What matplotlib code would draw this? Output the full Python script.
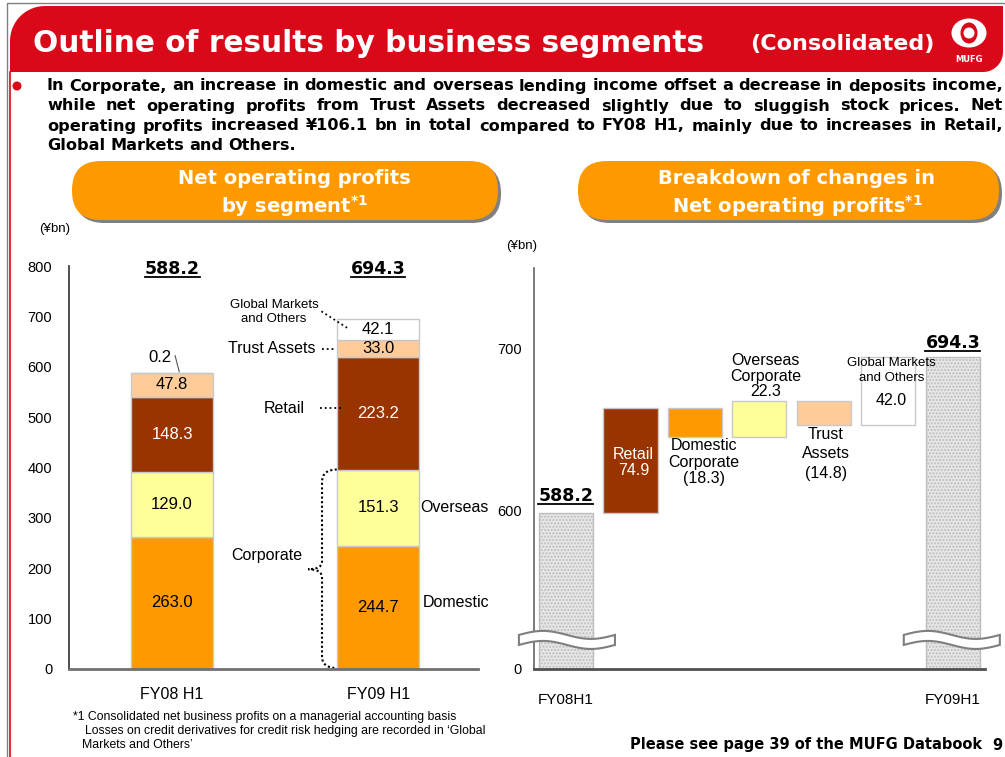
import numpy as np
import matplotlib
matplotlib.use('Agg')
import matplotlib.pyplot as plt
from matplotlib.patches import FancyBboxPatch, Polygon, Ellipse, Circle, PathPatch
from matplotlib.path import Path
from matplotlib.lines import Line2D
from matplotlib.transforms import Affine2D, IdentityTransform, blended_transform_factory

plt.rcParams['font.family'] = ['Liberation Sans', 'DejaVu Sans']

# ---- data: net operating profits by segment (¥bn)
periods = ['FY08 H1', 'FY09 H1']
domestic = [263.0, 244.7]
overseas = [129.0, 151.3]
retail = [148.3, 223.2]
trust = [47.8, 33.0]
global_mkts = [0.2, 42.1]
totals = [588.2, 694.3]

# ---- data: breakdown of changes (¥bn)
wf_names = ['Retail', 'Domestic\nCorporate', 'Overseas\nCorporate', 'Trust\nAssets', 'Global Markets\nand Others']
wf_changes = [74.9, -18.3, 22.3, -14.8, 42.0]
wf_start = 588.2
wf_end = 694.3
wf_ends = ['FY08H1', 'FY09H1']

W, H = 1005, 757
RED = '#D9091A'
ORANGE = '#FF9900'
seg_colors = ['#FF9900', '#FFFF99', '#993300', '#FFCC99', '#FFFFFF']
EDGE = '#C8C8C8'
BOLD = 'DejaVu Sans'

fig = plt.figure(figsize=(W / 100, H / 100), dpi=100)
PX = Affine2D().scale(1 / W, -1 / H).translate(0, 1) + fig.transFigure


def ftext(x, y, s, **kw):
    return fig.text(x, y, s, transform=PX, **kw)


# ---- frame + banner
fig.add_artist(Line2D([7, 7, 1005], [757, 3, 3], color='#808080', lw=1, transform=PX))
fig.add_artist(Line2D([10, 10], [72, 757], color=RED, lw=1.2, transform=PX))
th = np.linspace(np.pi, 1.5 * np.pi, 20)
tl = np.column_stack([45 + 35 * np.cos(th), 41 + 35 * np.sin(th)])
th2 = np.linspace(0, 0.5 * np.pi, 20)
br = np.column_stack([983 + 20 * np.cos(th2), 52 + 20 * np.sin(th2)])
banner = np.vstack([[[10, 72]], tl, [[1003, 6]], br, [[10, 72]]])
fig.add_artist(Polygon(banner, closed=True, fc=RED, ec='none', transform=PX))
ftext(33, 43, 'Outline of results by business segments', family=BOLD, weight='bold',
      size=21.3, color='white', va='center')
ftext(750, 44, '(Consolidated)', family=BOLD, weight='bold', size=16, color='white', va='center')
# logo
fig.add_artist(Ellipse((969, 33), 35, 29, fc='white', ec='none', transform=PX))
fig.add_artist(Ellipse((969, 33), 17, 21, fc=RED, ec='none', transform=PX))
fig.add_artist(Circle((969, 33), 5.5, fc='white', ec='none', transform=PX))
ftext(969, 59, 'MUFG', family=BOLD, weight='bold', size=6, color='white', ha='center', va='center')

# ---- bullet text (justified)
fig.add_artist(Circle((17, 86), 4.5, fc=RED, ec='none', transform=PX))
bullet_lines = [
    'In Corporate, an increase in domestic and overseas lending income offset a decrease in deposits income,',
    'while net operating profits from Trust Assets decreased slightly due to sluggish stock prices. Net',
    'operating profits increased ¥106.1 bn in total compared to FY08 H1, mainly due to increases in Retail,',
    'Global Markets and Others.',
]
bullet_y = [86, 106, 126, 146]
renderer = fig.canvas.get_renderer()
for k, (line, y) in enumerate(zip(bullet_lines, bullet_y)):
    words = line.split()
    txts = [ftext(0, y, w, family=BOLD, weight='bold', size=11.6, va='center') for w in words]
    widths = [t.get_window_extent(renderer).width for t in txts]
    if k < len(bullet_lines) - 1:
        gap = (1003 - 47 - sum(widths)) / (len(words) - 1)
    else:
        gap = 5
    x = 47
    for t, w in zip(txts, widths):
        t.set_x(x)
        x += w + gap

# ---- orange headers
for (x0, x1), lines, cx in [((72, 498), ['Net operating profits', r'by segment$^{\mathbf{*1}}$'], 294),
                            ((578, 999), ['Breakdown of changes in', r'Net operating profits$^{\mathbf{*1}}$'], 797)]:
    fig.add_artist(FancyBboxPatch((x0 + 3, 164), x1 - x0, 59, boxstyle='round,pad=0,rounding_size=29',
                                  fc='#808080', ec='none', transform=PX))
    fig.add_artist(FancyBboxPatch((x0, 161), x1 - x0, 59, boxstyle='round,pad=0,rounding_size=29',
                                  fc=ORANGE, ec='none', transform=PX))
    ftext(cx, 179, lines[0], family=BOLD, weight='bold', size=14, color='white', ha='center', va='center')
    ftext(cx, 206, lines[1], family=BOLD, weight='bold', size=14, color='white', ha='center', va='center')

underlined = []

# ---- left chart: stacked bars
ax1 = fig.add_axes([69 / W, 1 - 669 / H, (478 - 69) / W, (669 - 266) / H])
ax1.set_xlim(-0.5, 1.485)
ax1.set_ylim(0, 800)
xpos = np.arange(len(periods))
bw = 0.4
layers = [domestic, overseas, retail, trust, global_mkts]
bottom = np.zeros(len(periods))
for vals, c in zip(layers, seg_colors):
    vals = np.array(vals)
    ax1.bar(xpos, vals, bw, bottom=bottom, color=c, edgecolor=EDGE, lw=1, zorder=2)
    for i, v in enumerate(vals):
        if v >= 1:
            ax1.text(xpos[i], bottom[i] + v / 2, f'{v:.1f}', ha='center', va='center', size=12,
                     color='white' if c == '#993300' else 'black', zorder=3)
    bottom += vals
for i, t in enumerate(totals):
    underlined.append(ax1.text(xpos[i], 795, f'{t:.1f}', family=BOLD, weight='bold', size=12.5,
                               ha='center', va='center'))

ax1.set_yticks(np.arange(0, 801, 100))
ax1.set_xticks(xpos, periods)
ax1.tick_params(axis='y', length=0, pad=12, labelsize=10.5)
ax1.tick_params(axis='x', length=0, pad=13, labelsize=11.5)
for s in ['top', 'right']:
    ax1.spines[s].set_visible(False)
ax1.spines['left'].set_color('#404040')
ax1.spines['left'].set_linewidth(1.3)
ax1.spines['bottom'].set_color('#707070')
ax1.spines['bottom'].set_linewidth(2)
ftext(55, 229, '(¥bn)', size=9.5, ha='center', va='center')

# annotations, left chart
lbl = dict(ha='right', va='center', size=11.5)
ax1.text(-0.06, 619, f'{global_mkts[0]:.1f}', ha='center', va='center', size=12)
ax1.plot([0.015, 0.035], [622, 590], color='#555555', lw=0.8, clip_on=False)
ax1.text(0.495, 708, 'Global Markets\nand Others', ha='center', va='center', size=9.5, linespacing=1.2)
top9 = totals[1]
ax1.plot([0.725, 0.85], [710, top9 - global_mkts[1] / 2 + 4], ls=':', color='black', lw=1.3, clip_on=False)
y_tr = domestic[1] + overseas[1] + retail[1] + trust[1] / 2
ax1.text(0.694, y_tr, 'Trust Assets', **lbl)
ax1.plot([0.728, 0.79], [y_tr, y_tr], ls=':', color='black', lw=1.3)
y_re = domestic[1] + overseas[1] + retail[1] / 2 + 10
ax1.text(0.646, y_re, 'Retail', **lbl)
ax1.plot([0.718, 0.83], [y_re, y_re], ls=':', color='black', lw=1.3)
corp = domestic[1] + overseas[1]
mid = corp / 2
ax1.text(0.631, mid + 28, 'Corporate', **lbl)
brace = Path([(0.80, corp), (0.728, corp), (0.728, corp - 25), (0.728, mid + 15),
              (0.728, mid), (0.66, mid), (0.728, mid), (0.728, mid - 15),
              (0.728, 25), (0.728, 2), (0.80, 2)],
             [Path.MOVETO, Path.CURVE3, Path.CURVE3, Path.LINETO,
              Path.CURVE3, Path.CURVE3, Path.CURVE3, Path.CURVE3,
              Path.LINETO, Path.CURVE3, Path.CURVE3])
ax1.add_patch(PathPatch(brace, fc='none', ec='black', lw=1.5, ls=(0, (1, 1.2))))
ax1.text(1.205, domestic[1] + overseas[1] / 2, 'Overseas', ha='left', va='center', size=11.5)
ax1.text(1.215, domestic[1] / 2 + 10, 'Domestic', ha='left', va='center', size=11.5)

# ---- right chart: waterfall with broken axis
ax2 = fig.add_axes([534 / W, 1 - 669 / H, (985 - 534) / W, (669 - 268) / H])


def fwd(v):
    v = np.asarray(v, float)
    return np.where(v <= 600, v * 159 / 600, 159 + (v - 600) * 1.62)


def inv(s):
    s = np.asarray(s, float)
    return np.where(s <= 159, s * 600 / 159, 600 + (s - 159) / 1.62)


ax2.set_yscale('function', functions=(fwd, inv))
ax2.set_ylim(0, 749.4)
ax2.set_xlim(-0.496, 6.5)
wbw = 0.84
levels = wf_start + np.concatenate([[0], np.cumsum(wf_changes)])
bottoms = np.minimum(levels[:-1], levels[1:])
heights = np.abs(wf_changes)
wx = np.arange(1, len(wf_changes) + 1)
wf_colors = ['#993300', '#FF9900', '#FFFF99', '#FFCC99', '#FFFFFF']
ax2.bar(wx, heights, wbw, bottom=bottoms, color=wf_colors, edgecolor=EDGE, lw=1, zorder=2)
ax2.bar([0, 6], [wf_start, wf_end], wbw, color='#E6E6E6', hatch='.....', edgecolor='#BDBDBD', lw=1, zorder=2)

fmt = [f'{c:.1f}' if c > 0 else f'({-c:.1f})' for c in wf_changes]
ax2.annotate(f'{wf_names[0]}\n{fmt[0]}', xy=(1, (bottoms[0] + levels[1]) / 2), xytext=(3, 6),
             textcoords='offset pixels', ha='center', va='center', color='white', size=11.5, linespacing=1.1)
ax2.annotate(f'{wf_names[1]}\n{fmt[1]}', xy=(2, bottoms[1]), xytext=(9, -1),
             textcoords='offset pixels', ha='center', va='top', size=11.5, linespacing=1.1)
ax2.annotate(f'{wf_names[2]}\n{fmt[2]}', xy=(3, levels[3]), xytext=(6, 2),
             textcoords='offset pixels', ha='center', va='bottom', size=11.5, linespacing=1.05)
ax2.annotate(f'{wf_names[3]}\n{fmt[3]}', xy=(4, bottoms[3]), xytext=(2, -2),
             textcoords='offset pixels', ha='center', va='top', size=11.5, linespacing=1.35)
ax2.annotate(wf_names[4], xy=(5, levels[5]), xytext=(3, 0),
             textcoords='offset pixels', ha='center', va='top', size=9.5, linespacing=1.25)
ax2.annotate(fmt[4], xy=(5, levels[5]), xytext=(3, -43),
             textcoords='offset pixels', ha='center', va='center', size=11.5)
underlined.append(ax2.annotate(f'{wf_start:.1f}', xy=(0, wf_start), xytext=(0, 17), textcoords='offset pixels',
                               ha='center', va='center', family=BOLD, weight='bold', size=12.5))
underlined.append(ax2.annotate(f'{wf_end:.1f}', xy=(6, wf_end), xytext=(0, 14), textcoords='offset pixels',
                               ha='center', va='center', family=BOLD, weight='bold', size=12.5))

ax2.set_yticks([0, 600, 700])
ax2.set_yticklabels(['0', '600', '700'])
ax2.minorticks_off()
ax2.set_xticks([0, 6], wf_ends)
ax2.tick_params(axis='y', length=0, pad=9, labelsize=10.5)
ax2.tick_params(axis='x', length=0, pad=17, labelsize=11)
for s in ['top', 'right']:
    ax2.spines[s].set_visible(False)
ax2.spines['left'].set_color('#707070')
ax2.spines['left'].set_linewidth(1.3)
ax2.spines['bottom'].set_color('#505050')
ax2.spines['bottom'].set_linewidth(2)
ftext(522, 246, '(¥bn)', size=9.5, ha='center', va='center')

# break marks
bt = blended_transform_factory(ax2.transData, ax2.transAxes)
t = np.linspace(0, 1, 40)
for xa, xb in [(-0.73, 0.76), (5.24, 6.73)]:
    xx = xa + (xb - xa) * t
    top = 0.085 + 0.01 * np.sin(2 * np.pi * t)
    bot = top - 0.025
    pts = np.vstack([np.column_stack([xx, top]), np.column_stack([xx[::-1], bot[::-1]])])
    ax2.add_patch(Polygon(pts, closed=True, fc='white', ec='#7F7F7F', lw=1.5, transform=bt,
                          clip_on=False, zorder=5))

# ---- footnotes
ftext(73, 717, '*1 Consolidated net business profits on a managerial accounting basis', size=8.8, va='center')
ftext(85, 731, 'Losses on credit derivatives for credit risk hedging are recorded in \u2018Global', size=8.8, va='center')
ftext(82, 745, 'Markets and Others\u2019', size=8.8, va='center')
ftext(630, 745, 'Please see page 39 of the MUFG Databook', family=BOLD, weight='bold', size=10.5, va='center')
ftext(992, 745, '9', family=BOLD, weight='bold', size=10.5, va='center')

# underline totals
fig.canvas.draw()
for tx in underlined:
    bb = tx.get_window_extent(fig.canvas.get_renderer())
    fig.add_artist(Line2D([bb.x0, bb.x1], [bb.y0 + 1, bb.y0 + 1], color='black', lw=1.3,
                          transform=IdentityTransform()))

fig.savefig('out.png', dpi=100)
